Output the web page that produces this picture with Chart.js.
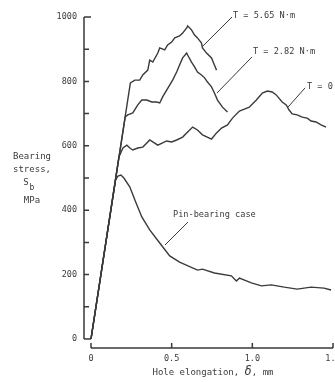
<!DOCTYPE html>
<html>
<head>
<meta charset="utf-8">
<script src="https://cdn.jsdelivr.net/npm/chart.js@4/dist/chart.umd.min.js"></script>
<style>
  html, body { margin: 0; padding: 0; background: #fff; }
  #wrap { width: 335px; height: 382px; position: relative; }
</style>
</head>
<body>
<div id="wrap"><canvas id="bearing-chart"></canvas></div>
<script>
/* Data: hole elongation (mm) vs bearing stress (MPa) */
let t565X = [0, 0.244, 0.272, 0.302, 0.321, 0.352, 0.364, 0.383, 0.414, 0.426, 0.457, 0.475, 0.5, 0.519, 0.549, 0.568, 0.593, 0.599, 0.623, 0.642, 0.66, 0.685, 0.691, 0.716, 0.747, 0.765, 0.778]
let t565Y = [0, 795, 804, 804, 820, 835, 866, 860, 888, 904, 898, 913, 922, 935, 941, 950, 966, 972, 960, 944, 935, 919, 904, 888, 873, 851, 835]

let t282X = [0, 0.212, 0.228, 0.259, 0.29, 0.315, 0.346, 0.377, 0.407, 0.426, 0.444, 0.469, 0.506, 0.531, 0.549, 0.568, 0.593, 0.599, 0.623, 0.642, 0.66, 0.685, 0.704, 0.722, 0.747, 0.765, 0.784, 0.815, 0.846]
let t282Y = [0, 690, 696, 702, 727, 742, 742, 736, 736, 733, 752, 773, 804, 829, 851, 873, 888, 882, 860, 845, 829, 820, 811, 798, 783, 764, 742, 720, 705]

let t0X = [0, 0.173, 0.198, 0.222, 0.241, 0.259, 0.29, 0.321, 0.346, 0.364, 0.383, 0.414, 0.444, 0.469, 0.5, 0.531, 0.568, 0.599, 0.63, 0.66, 0.691, 0.747, 0.778, 0.809, 0.846, 0.877, 0.92, 0.951, 0.981, 1.025, 1.062, 1.093, 1.123, 1.148, 1.185, 1.21, 1.228, 1.247, 1.278, 1.309, 1.34, 1.364, 1.395, 1.426, 1.457]
let t0Y = [0, 565, 593, 602, 593, 587, 593, 596, 609, 618, 612, 602, 609, 615, 612, 618, 627, 643, 658, 649, 634, 621, 640, 655, 665, 686, 708, 714, 720, 742, 764, 770, 767, 758, 736, 727, 711, 699, 696, 689, 686, 677, 674, 665, 658]

let pinX = [0, 0.152, 0.167, 0.185, 0.204, 0.241, 0.272, 0.315, 0.364, 0.426, 0.488, 0.549, 0.66, 0.691, 0.765, 0.87, 0.901, 0.92, 0.994, 1.056, 1.117, 1.198, 1.278, 1.364, 1.444, 1.488]
let pinY = [0, 494, 506, 509, 500, 472, 432, 379, 339, 298, 258, 239, 214, 217, 205, 196, 180, 189, 174, 165, 168, 161, 155, 161, 158, 152]

/* Tick values */
let xTicks = [0, 0.5, 1.0, 1.5]
let yTicks = [0, 100, 200, 300, 400, 500, 600, 700, 800, 900, 1000]

/* Curve labels with leader lines (text anchor, line start, line end in data units) */
let curveLabels = [
    { text: 'T = 5.65 N\u00b7m', at: [0.88, 1003], from: [0.874, 1000], to: [0.694, 910] },
    { text: 'T = 2.82 N\u00b7m', at: [1.004, 891], from: [0.998, 876], to: [0.781, 764] },
    { text: 'T = 0', at: [1.339, 783], from: [1.327, 780], to: [1.221, 720] },
    { text: 'Pin-bearing case', at: [0.508, 385], from: [0.601, 363], to: [0.459, 292] }
]

let ink = '#3a3a3a'
let mono = "'DejaVu Sans Mono', monospace"

function toPoints(xs, ys) {
    return xs.map(function(x, i) { return { x: x, y: ys[i] } })
}

function curve(xs, ys) {
    return {
        data: toPoints(xs, ys),
        borderColor: ink,
        borderWidth: 1.4,
        pointRadius: 0,
        tension: 0,
        fill: false
    }
}

// draws the detached axis lines, inward ticks and the free text
let annotate = {
    id: 'annotate',
    afterDraw: function(chart) {
        let c = chart.ctx
        let xs = chart.scales.x
        let ys = chart.scales.y
        let area = chart.chartArea
        c.save()
        c.strokeStyle = ink
        c.lineWidth = 1.5

        // y axis
        let ax = area.left
        c.beginPath()
        c.moveTo(ax, ys.getPixelForValue(0))
        c.lineTo(ax, ys.getPixelForValue(1000))
        yTicks.forEach(function(v) {
            let py = ys.getPixelForValue(v)
            let len = (v == 0 || v == 1000) ? 7 : 5
            c.moveTo(ax, py)
            c.lineTo(ax + len, py)
        })
        c.stroke()

        // x axis
        let ay = area.bottom
        c.beginPath()
        c.moveTo(xs.getPixelForValue(0), ay)
        c.lineTo(xs.getPixelForValue(1.5), ay)
        xTicks.forEach(function(v) {
            let px = xs.getPixelForValue(v)
            c.moveTo(px, ay)
            c.lineTo(px, ay - 5)
        })
        c.stroke()

        // curve labels
        c.lineWidth = 1
        c.fillStyle = ink
        c.font = '8.6px ' + mono
        c.textBaseline = 'middle'
        c.textAlign = 'left'
        curveLabels.forEach(function(l) {
            c.beginPath()
            c.moveTo(xs.getPixelForValue(l.from[0]), ys.getPixelForValue(l.from[1]))
            c.lineTo(xs.getPixelForValue(l.to[0]), ys.getPixelForValue(l.to[1]))
            c.stroke()
            c.fillText(l.text, xs.getPixelForValue(l.at[0]), ys.getPixelForValue(l.at[1]))
        })

        // y title, horizontal, left of the axis
        c.font = '9px ' + mono
        c.textAlign = 'center'
        c.fillText('Bearing', 32, 157)
        c.fillText('stress,', 32, 170)
        c.fillText('S', 26, 183)
        c.font = '8px ' + mono
        c.fillText('b', 32, 188)
        c.font = '9px ' + mono
        c.fillText('MPa', 32, 201)

        // x title with the italic delta
        let partA = 'Hole elongation, '
        let partB = '\u03b4'
        let partC = ', mm'
        c.font = '9px ' + mono
        let wA = c.measureText(partA).width
        let wC = c.measureText(partC).width
        c.font = 'italic 12px ' + mono
        let wB = c.measureText(partB).width
        let start = 213 - (wA + wB + wC) / 2
        c.textAlign = 'left'
        c.font = '9px ' + mono
        c.fillText(partA, start, 373)
        c.font = 'italic 12px ' + mono
        c.fillText(partB, start + wA, 372)
        c.font = '9px ' + mono
        c.fillText(partC, start + wA + wB, 373)
        c.restore()
    }
}

let ctx = document.querySelector('#bearing-chart').getContext('2d')

let bearingChart = new Chart(ctx, {
    type: 'line',
    data: {
        datasets: [
            curve(t565X, t565Y),
            curve(t282X, t282Y),
            curve(t0X, t0Y),
            curve(pinX, pinY)
        ]
    },
    options: {
        responsive: true,
        maintainAspectRatio: false,
        animation: false,
        events: [],
        layout: { autoPadding: false, padding: { left: 0, top: 17, right: 2, bottom: 0 } },
        plugins: { legend: { display: false }, tooltip: { enabled: false } },
        scales: {
            x: {
                type: 'linear',
                min: -0.0434,
                max: 1.5,
                afterBuildTicks: function(s) { s.ticks = xTicks.map(function(v) { return { value: v } }) },
                afterFit: function(s) {
                    s.height = 34
                    s.paddingLeft = 0
                    s.paddingRight = 0
                },
                grid: { display: false, drawTicks: false },
                border: { display: false },
                ticks: {
                    padding: 6,
                    color: ink,
                    maxRotation: 0,
                    font: { family: mono, size: 8.5 },
                    callback: function(v) { return v == 0 ? '0' : v.toFixed(1) }
                }
            },
            y: {
                type: 'linear',
                min: -28,
                max: 1000,
                afterBuildTicks: function(s) { s.ticks = yTicks.map(function(v) { return { value: v } }) },
                afterFit: function(s) {
                    s.width = 84
                    s.paddingTop = 0
                    s.paddingBottom = 0
                },
                grid: { display: false, drawTicks: false },
                border: { display: false },
                ticks: {
                    padding: 7,
                    color: ink,
                    font: { family: mono, size: 8.5 },
                    callback: function(v) { return v % 200 == 0 ? String(v) : '' }
                }
            }
        }
    },
    plugins: [annotate]
})
</script>
</body>
</html>
